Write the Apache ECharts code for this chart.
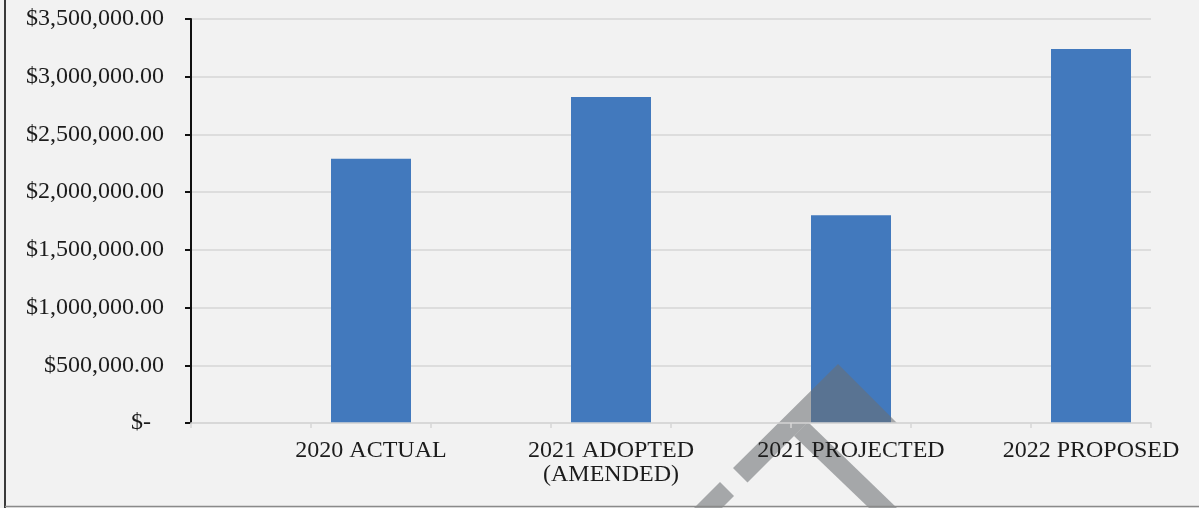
<!DOCTYPE html>
<html>
<head>
<meta charset="utf-8">
<script src="https://cdn.jsdelivr.net/npm/echarts@6/dist/echarts.min.js"></script>
<style>
  html, body { margin: 0; padding: 0; background: #f2f2f2; }
  #chart { width: 1199px; height: 508px; }
</style>
</head>
<body>
<div id="chart"></div>
<script>
// Budget totals by period
const categories = ['2020 ACTUAL', '2021 ADOPTED\n(AMENDED)', '2021 PROJECTED', '2022 PROPOSED'];
const amounts = [2290000, 2825000, 1800000, 3240000];

// Value axis range and step
const yMin = 0;
const yMax = 3500000;
const yStep = 500000;

// Each period sits in the right half of its slot: a blank spacer slot precedes it
const axisSlots = [];
const barData = [];
categories.forEach((name, i) => {
  axisSlots.push('');
  barData.push('-');
  axisSlots.push(name);
  barData.push(amounts[i]);
});

const serif = '"Liberation Serif", "Times New Roman", serif';
const textColor = '#1c1c1c';

function money(v) {
  if (v === 0) return '{dash|$-}';
  return '$' + v.toLocaleString('en-US', { minimumFractionDigits: 2, maximumFractionDigits: 2 });
}

const chart = echarts.init(document.getElementById('chart'), null, { renderer: 'canvas' });

chart.setOption({
  backgroundColor: '#f2f2f2',
  animation: false,
  grid: { left: 191, right: 48, top: 19, height: 404 },
  xAxis: {
    type: 'category',
    data: axisSlots,
    z: 10,
    axisLine: { lineStyle: { color: '#d6d6d6', width: 1.5 } },
    axisTick: { show: true, length: 5, lineStyle: { color: '#d6d6d6', width: 1.5 } },
    axisLabel: {
      interval: 0,
      margin: 16,
      fontFamily: serif,
      fontSize: 24,
      lineHeight: 24,
      color: textColor
    },
    splitLine: { show: false }
  },
  yAxis: {
    type: 'value',
    min: yMin,
    max: yMax,
    interval: yStep,
    axisLine: { show: true, lineStyle: { color: '#111', width: 2 } },
    axisTick: { show: true, length: 6, lineStyle: { color: '#111', width: 2 } },
    axisLabel: {
      margin: 27,
      fontFamily: serif,
      fontSize: 24,
      color: textColor,
      formatter: money,
      rich: {
        dash: { fontFamily: serif, fontSize: 24, color: textColor, padding: [0, 13, 0, 0] }
      }
    },
    splitLine: { show: true, lineStyle: { color: '#d6d6d6', width: 1.5 } }
  },
  series: [{
    type: 'bar',
    data: barData,
    barWidth: 80,
    itemStyle: { color: '#4279bd' }
  }],
  graphic: {
    elements: [
      // diagonal stamp crossing the third bar
      {
        type: 'polygon', z: 5, silent: true,
        shape: { points: [[838, 364], [897, 423], [807, 423], [747.5, 482.5], [733, 468]] },
        style: { fill: 'rgba(108,111,114,0.57)' }
      },
      {
        type: 'polygon', z: 5, silent: true,
        shape: { points: [[720, 482], [734, 496], [722, 508], [694, 508]] },
        style: { fill: 'rgba(108,111,114,0.57)' }
      },
      {
        type: 'polygon', z: 5, silent: true,
        shape: { points: [[807, 423], [809, 423], [897, 508], [869, 508], [794, 436]] },
        style: { fill: 'rgba(108,111,114,0.57)' }
      },
      // frame edges
      {
        type: 'line', z: 20, silent: true,
        shape: { x1: 5, y1: 0, x2: 5, y2: 508 },
        style: { stroke: '#3a3a3a', lineWidth: 2 }
      },
      {
        type: 'line', z: 20, silent: true,
        shape: { x1: 5, y1: 506.5, x2: 1199, y2: 506.5 },
        style: { stroke: '#8a8a8a', lineWidth: 1.5 }
      }
    ]
  }
});
</script>
</body>
</html>
